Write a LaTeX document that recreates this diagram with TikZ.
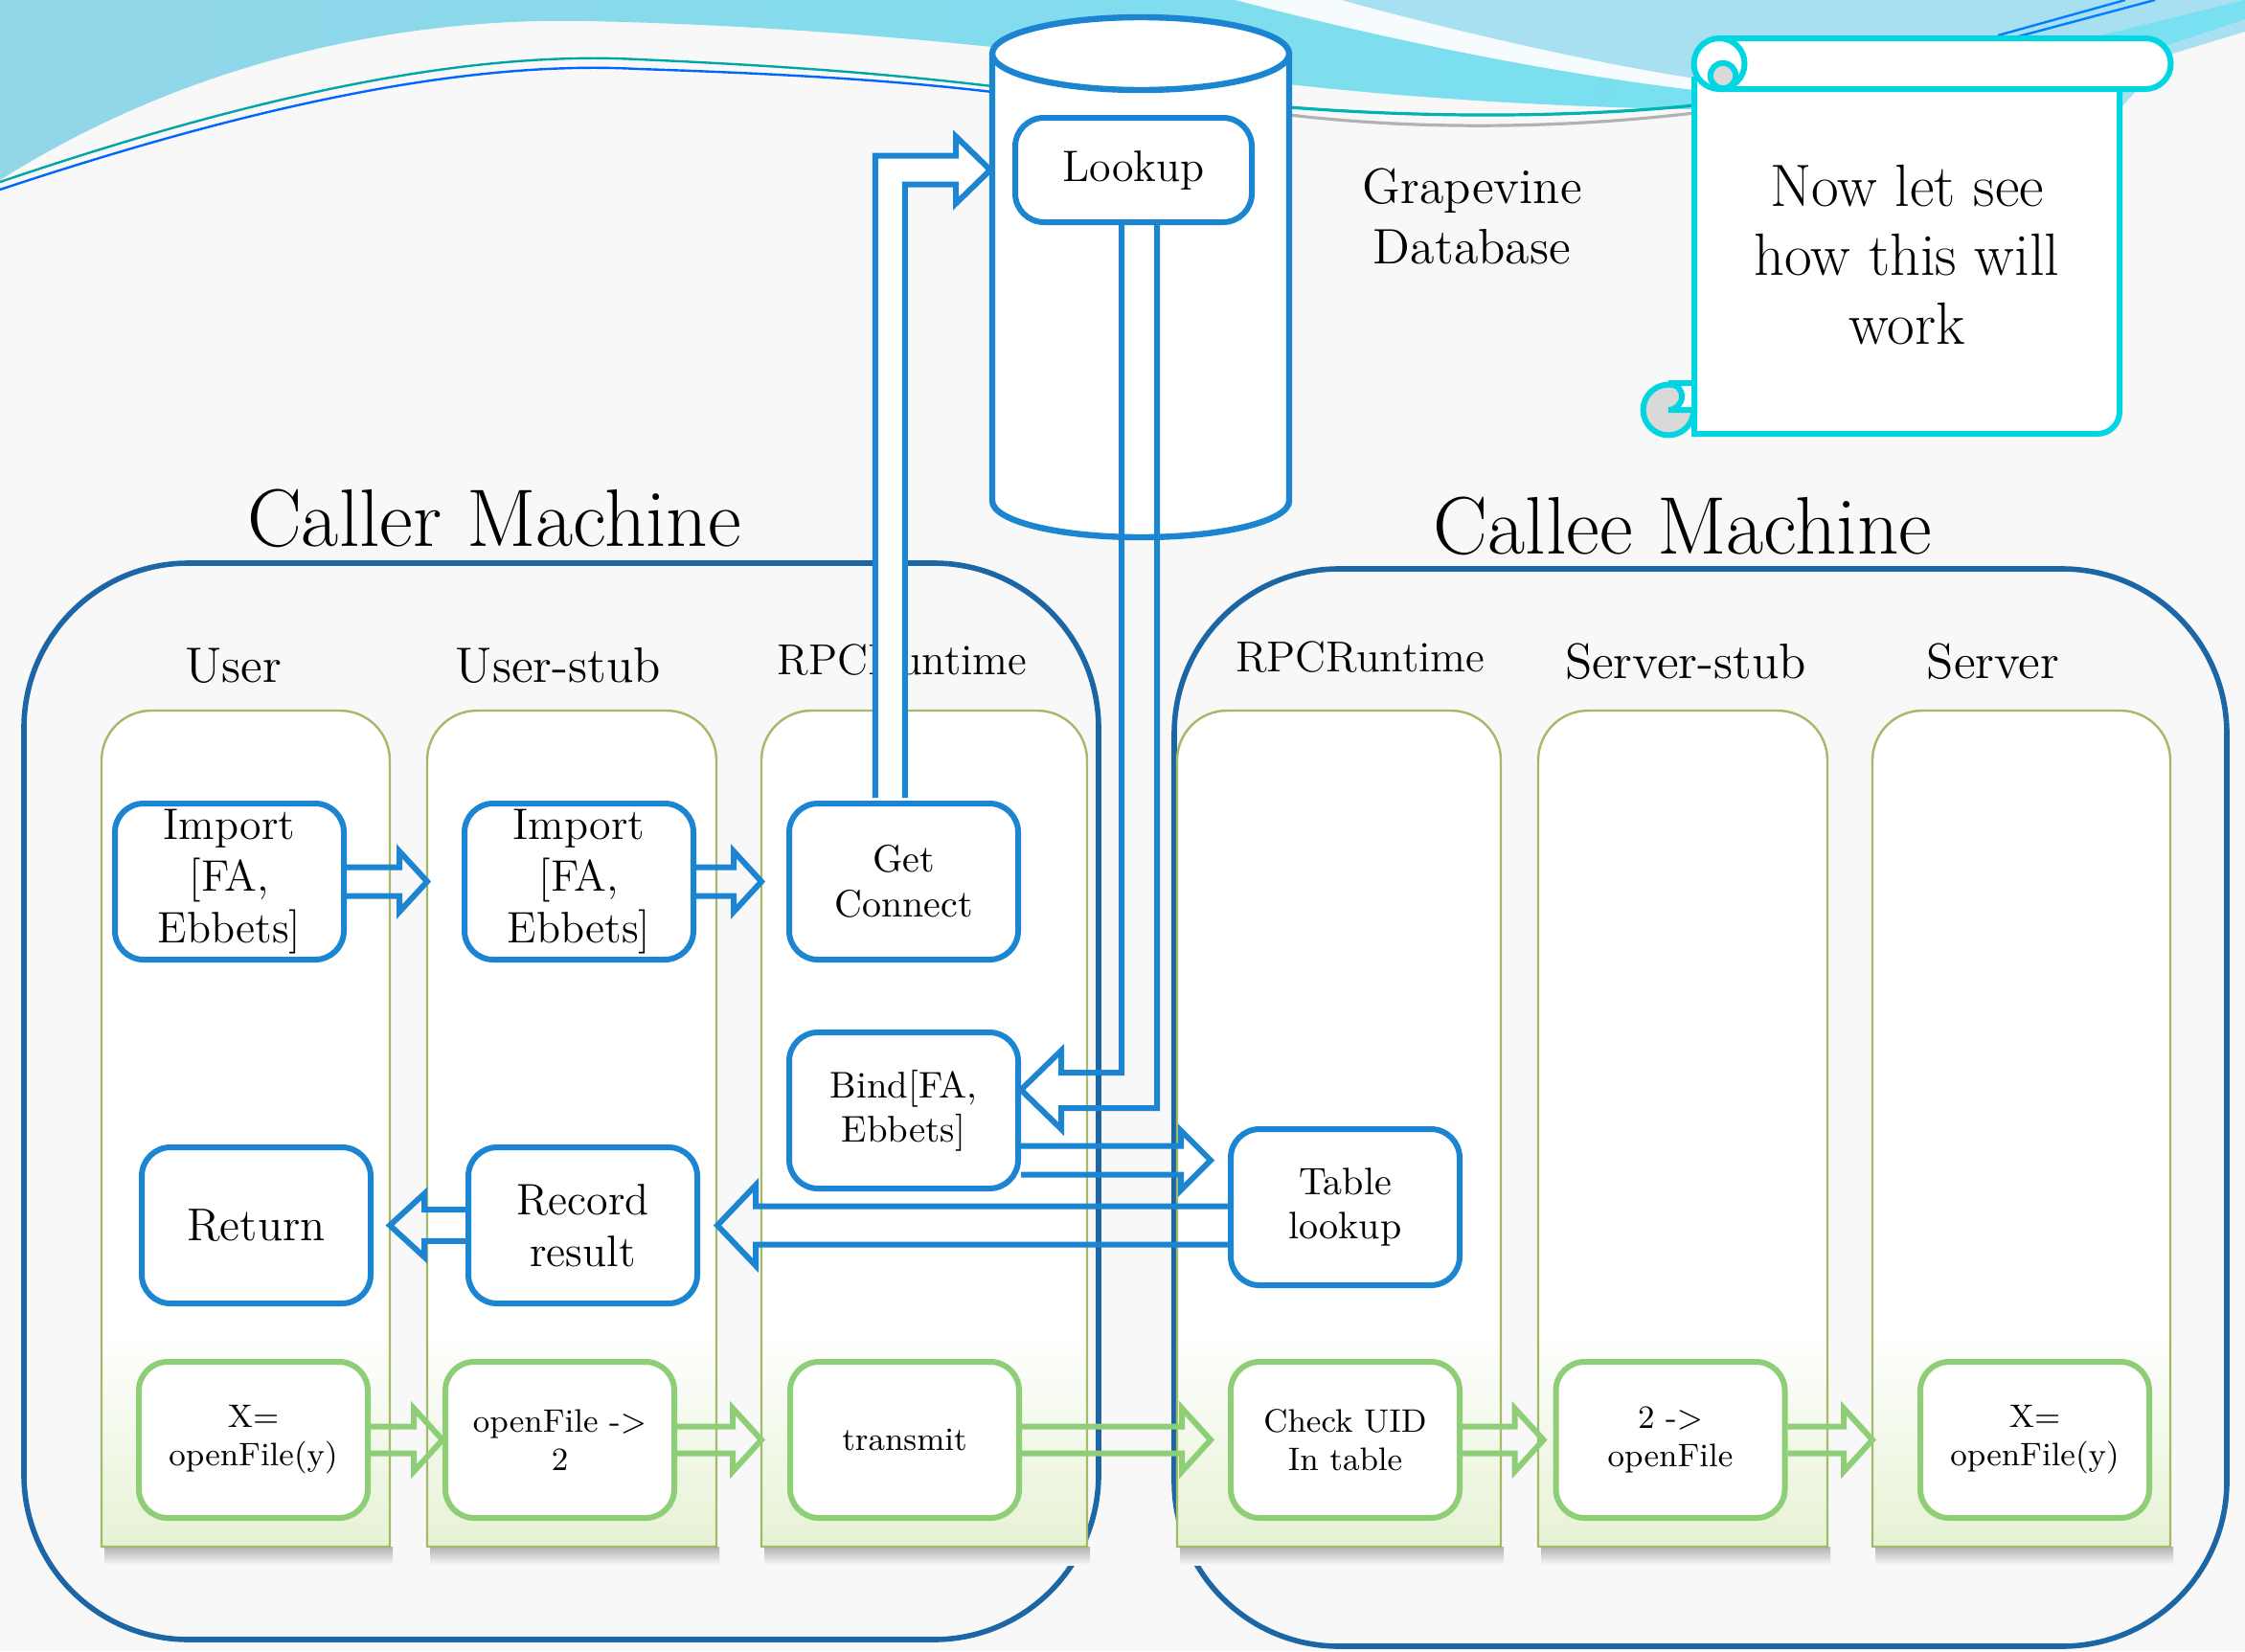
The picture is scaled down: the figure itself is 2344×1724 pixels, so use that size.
\documentclass[tikz,border=0pt]{standalone}
\usetikzlibrary{calc}

\definecolor{boxblue}{RGB}{27,133,210}
\definecolor{machblue}{RGB}{28,102,166}
\definecolor{lanegreen}{RGB}{230,242,212}
\definecolor{laneline}{RGB}{163,186,104}
\definecolor{boxgreen}{RGB}{142,206,118}
\definecolor{scrollcyan}{RGB}{0,214,226}
\definecolor{swoosh}{RGB}{146,214,232}
\definecolor{swooshb}{RGB}{120,224,240}
\definecolor{swooshc}{RGB}{168,224,242}
\definecolor{bgpaper}{RGB}{248,248,248}

\tikzset{
  bluebox/.style={draw=boxblue, line width=1.5pt, rounded corners=7.5pt, fill=white,
    minimum width=59.75pt, minimum height=40.75pt, align=center, inner sep=1pt},
  greenbox/.style={bluebox, draw=boxgreen, font=\fontsize{8.5}{10}\selectfont},
  bluearrow/.style={draw=boxblue, line width=1.5pt},
  greenarrow/.style={draw=boxgreen, line width=1.5pt},
  machine/.style={draw=machblue, line width=1.4pt, rounded corners=43pt},
  scrollline/.style={draw=scrollcyan, line width=1.5pt},
  colhead/.style={font=\fontsize{13}{15}\selectfont},
  bigtitle/.style={font=\fontsize{21.3}{25}\selectfont}
}

% hollow block arrow: style, start, tip, direction, half shaft, half head, head length
\newcommand\blockarrow[7]{%
  \draw[#1] let \p1=(#2), \p2=(#3) in
    (\x1,{\y1+#5}) -- ({\x2-(#4)*#7},{\y1+#5}) -- ({\x2-(#4)*#7},{\y1+#6})
    -- (\x2,\y1) -- ({\x2-(#4)*#7},{\y1-#6}) -- ({\x2-(#4)*#7},{\y1-#5})
    -- (\x1,{\y1-#5});}

\begin{document}
\begin{tikzpicture}[x=0.25pt,y=-0.25pt]
\useasboundingbox (0,0) rectangle (2344,1724);
\fill[bgpaper] (0,0) rectangle (2344,1724);

%Shape: Swoosh
\fill[swooshc] (1000,0) -- (1346,88) .. controls (1500,105) and (1650,112) .. (1769,114) -- (2213,114) -- (2265,57) -- (2344,33) -- (2344,0) -- cycle;
\shade[left color=swoosh, right color=swooshb] (0,0) -- (0,188) .. controls (200,62) and (420,18) .. (612,22) .. controls (900,28) and (1150,60) .. (1346,88) .. controls (1500,105) and (1650,112) .. (1769,114) -- (1769,94) .. controls (1620,76) and (1450,42) .. (1290,0) -- cycle;
\fill[white, opacity=0.9] (1290,0) .. controls (1450,42) and (1620,76) .. (1769,94) -- (1769,82) .. controls (1630,60) and (1480,22) .. (1400,0) -- cycle;
\fill[swooshb] (2180,40) -- (2344,0) -- (2344,20) -- (2230,58) -- cycle;
%Straight Lines
\draw[teal!70!cyan, line width=0.6pt] (0,190) .. controls (250,105) and (480,52) .. (666,62) .. controls (850,70) and (950,80) .. (1036,90);
\draw[blue!60!cyan, line width=0.6pt] (0,198) .. controls (250,115) and (480,62) .. (666,72) .. controls (850,78) and (950,86) .. (1036,96);
\draw[teal!60!cyan, line width=0.8pt] (1346,112) .. controls (1500,124) and (1650,122) .. (1769,110);
\draw[gray!60, line width=0.8pt] (1346,120) .. controls (1500,138) and (1650,132) .. (1769,118);
\draw[blue!50!cyan, line width=0.6pt] (2086,37) -- (2219,0);
\draw[blue!50!cyan, line width=0.6pt] (2100,40) -- (2250,0);

%Shape: Rounded Rect
\draw[machine] (25,588) rectangle (1147,1712);
\draw[machine] (1226,594) rectangle (2325,1719);

% Text Node
\node[bigtitle] (callert) at (516,541) {Caller Machine};
% Text Node
\node[bigtitle] (calleet) at (1757,549) {Callee Machine};

%Shape: Lanes
\foreach \nm/\xa/\xb in {ulane/106/407, slane/446/748, rlane/795/1135, clane/1229/1567, sslane/1606/1908, svlane/1955/2266}{
  \shade[top color=black!30, bottom color=bgpaper] ({\xa+3},1615) rectangle ({\xb+3},1634);
  \fill[white] (\xa,1615) -- (\xa,794) arc[start angle=180,end angle=90,radius=13pt] -- ({\xb-52},742) arc[start angle=90,end angle=0,radius=13pt] -- (\xb,1615) -- cycle;
  \shade[top color=white, bottom color=lanegreen] (\xa,1390) rectangle (\xb,1615);
  \draw[laneline, line width=0.6pt] (\xa,1615) -- (\xa,794) arc[start angle=180,end angle=90,radius=13pt] -- ({\xb-52},742) arc[start angle=90,end angle=0,radius=13pt] -- (\xb,1615) -- cycle;
  \coordinate (\nm) at (\xa,742);
}

% Text Node
\node[colhead] (huser) at (244,695) {User};
% Text Node
\node[colhead] (hstub) at (583,695) {User-stub};
% Text Node
\node[colhead, font=\fontsize{11.3}{13}\selectfont] (hrpc) at (942,689) {RPCRuntime};
% Text Node
\node[colhead, font=\fontsize{11.3}{13}\selectfont] (hrpcb) at (1420,686) {RPCRuntime};
% Text Node
\node[colhead] (hsstub) at (1760,691) {Server-stub};
% Text Node
\node[colhead] (hserver) at (2081,691) {Server};
% Text Node
\node[align=center, font=\fontsize{13}{15.75}\selectfont] (grape) at (1537,226) {Grapevine\\Database};

%Shape: Can
\draw[boxblue, line width=1.6pt, fill=white] (1036,56) -- (1036,523) arc[start angle=180,end angle=360,x radius=38.75pt,y radius=9.5pt] -- (1346,56);
\draw[boxblue, line width=1.6pt, fill=white] (1191,56) ellipse[x radius=38.75pt,y radius=9.5pt];

%Shape: Vertical Scroll
\draw[scrollline, fill=white] (1769,80) -- (1769,453) -- (2190,453) arc[start angle=270,end angle=360,radius=5.75pt] -- (2213,80);
\draw[scrollline, fill=gray!30] (1742,428) circle[radius=6.6pt];
\draw[scrollline, fill=white] (1742,400) arc[start angle=90,end angle=-90,radius=3.5pt] -- (1769,428) -- (1769,400) -- cycle;
\draw[scrollline, fill=white] (1795,40) -- (2240,40) arc[start angle=90,end angle=-90,radius=6.625pt] -- (1795,93);
\draw[scrollline, fill=white] (1795,66.5) circle[radius=6.625pt];
\draw[scrollline, fill=gray!30] (1799,79) circle[radius=3.3pt];
% Text Node
\node[align=center, font=\fontsize{15.6}{18}\selectfont] (note) at (1991,266) {Now let see\\how this will\\work};

% Blue boxes
\node[bluebox, minimum width=61.75pt, minimum height=27.25pt, font=\fontsize{11.5}{13}\selectfont] (lookup) at (1183.5,177.5) {Lookup};
\node[bluebox, font=\fontsize{11.5}{13.6}\selectfont] (imp1) at (239.5,920.5) {Import\\{[}FA,\\Ebbets{]}};
\node[bluebox, font=\fontsize{11.5}{13.6}\selectfont] (imp2) at (604.5,920.5) {Import\\{[}FA,\\Ebbets{]}};
\node[bluebox, font=\fontsize{10}{11.6}\selectfont] (getc) at (943.5,920.5) {Get\\Connect};
\node[bluebox, font=\fontsize{9.7}{11.6}\selectfont] (bind) at (943.5,1159.5) {Bind{[}FA,\\Ebbets{]}};
\node[bluebox, font=\fontsize{12}{13.6}\selectfont] (ret) at (267.5,1279.5) {Return};
\node[bluebox, font=\fontsize{11.5}{13.6}\selectfont] (rec) at (608.5,1279.5) {Record\\result};
\node[bluebox, font=\fontsize{10}{11.6}\selectfont] (tbl) at (1404.5,1260.5) {Table\\lookup};

% Green boxes
\node[greenbox] (xo) at (264.5,1503.5) {X=\\openFile(y)};
\node[greenbox] (so) at (584.5,1503.5) {openFile ->\\2};
\node[greenbox] (tr) at (944.5,1503.5) {transmit};
\node[greenbox] (chk) at (1404.5,1503.5) {Check UID\\In table};
\node[greenbox] (of) at (1744,1503.5) {2 ->\\openFile};
\node[greenbox] (xs) at (2124.5,1503.5) {X=\\openFile(y)};

%Bent arrows
\draw[bluearrow, fill=white] let \p1=(getc.north), \p2=(lookup.west) in
  ({\x1-7.4pt},{\y1+0.75pt}) -- ({\x1-7.4pt},{\y2+3.75pt}) -- ({\x2-14.75pt},{\y2+3.75pt}) -- ({\x2-14.75pt},{\y2+8.75pt})
  -- ({\x2-5.75pt},\y2) -- ({\x2-14.75pt},{\y2-8.75pt}) -- ({\x2-14.75pt},{\y2-3.75pt}) -- ({\x1+0.35pt},{\y2-3.75pt}) -- ({\x1+0.35pt},{\y1+0.75pt});
\draw[bluearrow] let \p1=(lookup.south), \p2=(bind.east) in
  ({\x1-3.125pt},\y1) -- ({\x1-3.125pt},{\y2+9.875pt}) -- ({\x2+10.5pt},{\y2+9.875pt}) -- ({\x2+10.5pt},{\y2+15.6pt})
  -- (\x2,{\y2+5.375pt}) -- ({\x2+10.5pt},{\y2-4.85pt}) -- ({\x2+10.5pt},{\y2+0.625pt}) -- ({\x1+6.125pt},{\y2+0.625pt}) -- ({\x1+6.125pt},\y1);

%Block arrows
\blockarrow{bluearrow}{imp1.east}{slane |- imp1.east}{1}{3.75pt}{7.9pt}{7.25pt}
\blockarrow{bluearrow}{imp2.east}{rlane |- imp2.east}{1}{3.75pt}{7.9pt}{7.25pt}
\blockarrow{bluearrow}{rec.west}{$(ret.east)+(17,0)$}{-1}{4.1pt}{8.25pt}{9pt}
\blockarrow{bluearrow}{tbl.west |- rec.east}{$(rec.east)+(18,0)$}{-1}{5pt}{10.5pt}{10pt}
\blockarrow{bluearrow}{$(bind.east)+(0,52)$}{$(tbl.west)+(-18,0)$}{1}{3.75pt}{7.75pt}{7.75pt}
\blockarrow{greenarrow}{xo.east}{so.west}{1}{3.5pt}{8.25pt}{7.5pt}
\blockarrow{greenarrow}{so.east}{rlane |- so.east}{1}{3.5pt}{8.25pt}{7.5pt}
\blockarrow{greenarrow}{tr.east}{$(chk.west)+(-18,0)$}{1}{3.5pt}{8.25pt}{7.5pt}
\blockarrow{greenarrow}{chk.east}{$(of.west)+(-10,0)$}{1}{3.5pt}{8.25pt}{7.5pt}
\blockarrow{greenarrow}{of.east}{svlane |- of.east}{1}{3.5pt}{8.25pt}{7.5pt}

\end{tikzpicture}
\end{document}
